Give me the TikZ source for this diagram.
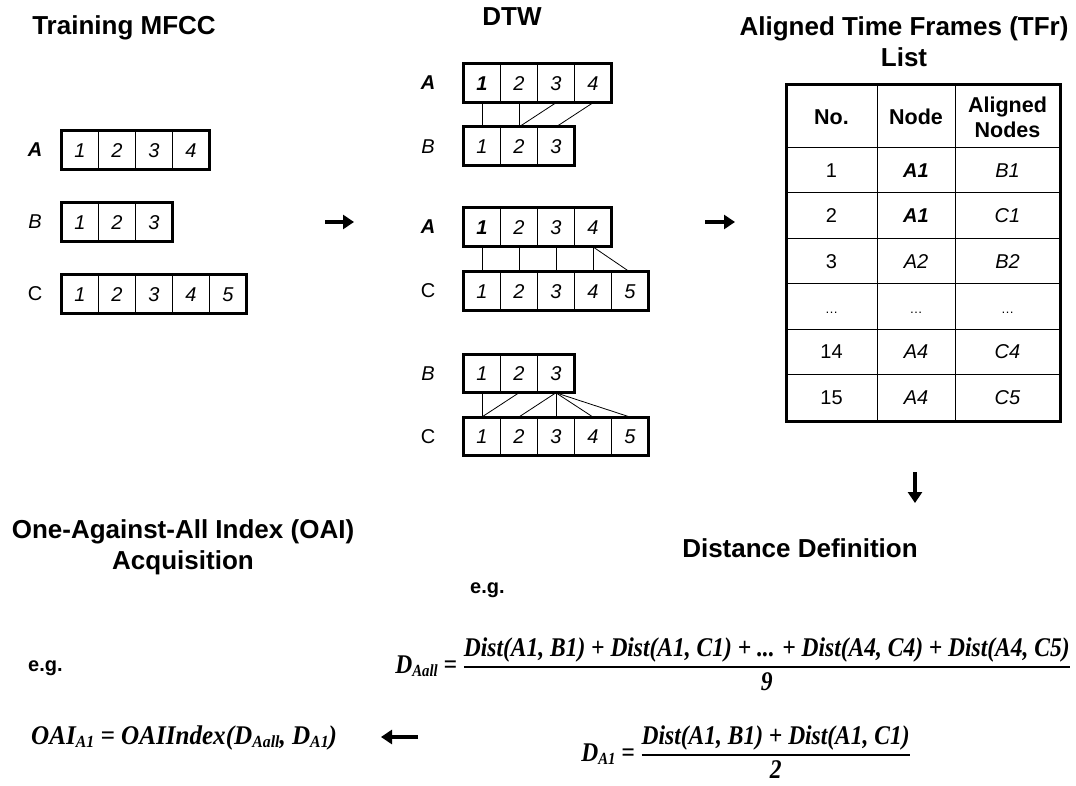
\documentclass[tikz,border=0pt]{standalone}
\usepackage{fontspec}
\usepackage{amsmath}
\usepackage{graphicx}
\setmainfont{Liberation Sans}
\newfontfamily\fr{Liberation Serif}
\usetikzlibrary{arrows.meta}
\newcommand\sub[1]{\raisebox{-0.12em}{\fontsize{17}{17}\selectfont #1}}
\newcommand\seqrow[4]{%
  \foreach \t [count=\i] in {#4} {\node[cellsty] (#1\i) at ({#2+(\i-1)*37},#3) {\t};}%
}
\tikzset{
  title/.style={font=\fontsize{26}{31}\selectfont\bfseries, align=center, inner sep=0pt},
  cellsty/.style={draw, line width=0.8pt, minimum width=37pt, minimum height=38pt, inner sep=0pt, anchor=north west, text height=14pt, text depth=0pt, font=\fontsize{20}{22}\selectfont\itshape},
  seqlbl/.style={font=\fontsize{20}{24}\selectfont, inner sep=0pt, text height=14pt, text depth=0pt},
  link/.style={line width=0.8pt},
  frame/.style={line width=3pt},
  grid/.style={line width=1pt},
  bigarrow/.style={line width=3.5pt, -{Triangle[length=11pt,width=14pt]}},
  tab/.style={font=\fontsize{20}{25}\selectfont, align=center, inner sep=0pt, text height=14pt, text depth=0pt},
  head/.style={font=\fontsize{21.5}{25}\selectfont\bfseries, align=center, inner sep=0pt},
  eg/.style={font=\fontsize{20}{24}\selectfont\bfseries, inner sep=0pt},
  formula/.style={font=\fontsize{27}{30}\selectfont\fr\bfseries\itshape, inner sep=0pt},
}
\begin{document}
\begin{tikzpicture}[x=1pt,y=-1pt]
\useasboundingbox (0,0) rectangle (1076,786);

% titles
\node[title] (t1) at (124,28) {Training MFCC};
\node[title] (t2) at (512,17) {DTW};
\node[title] (t3) at (904,42) {Aligned Time Frames (TFr)\\List};
\node[title] (t4) at (183,547) {One-Against-All Index (OAI)\\Acquisition};
\node[title] (t5) at (800,548) {Distance Definition};

% training MFCC
\node[seqlbl] (lA) at (35,150) {\textbf{\textit{A}}};
\node[seqlbl] (lB) at (35,222) {\textit{B}};
\node[seqlbl] (lC) at (35,294) {C};
\seqrow{tA}{61}{131}{1,2,3,4}
\seqrow{tB}{61}{203}{1,2,3}
\seqrow{tC}{61}{275}{1,2,3,4,5}
\draw[frame] (tA1.north west) rectangle (tA4.south east);
\draw[frame] (tB1.north west) rectangle (tB3.south east);
\draw[frame] (tC1.north west) rectangle (tC5.south east);

% DTW 1
\node[seqlbl] (pAl) at (428,83) {\textbf{\textit{A}}};
\node[seqlbl] (pBl) at (428,147) {\textit{B}};
\seqrow{pA}{463}{64}{\textbf{1},2,3,4}
\seqrow{pB}{463}{127}{1,2,3}
\draw[link] (pA1.south) -- (pB1.north);
\draw[link] (pA2.south) -- (pB2.north);
\draw[link] (pA3.south) -- (pB2.north);
\draw[link] (pA4.south) -- (pB3.north);
\draw[frame] (pA1.north west) rectangle (pA4.south east);
\draw[frame] (pB1.north west) rectangle (pB3.south east);

% DTW 2
\node[seqlbl] (qAl) at (428,227) {\textbf{\textit{A}}};
\node[seqlbl] (qCl) at (428,291) {C};
\seqrow{qA}{463}{208}{\textbf{1},2,3,4}
\seqrow{qC}{463}{272}{1,2,3,4,5}
\draw[link] (qA1.south) -- (qC1.north);
\draw[link] (qA2.south) -- (qC2.north);
\draw[link] (qA3.south) -- (qC3.north);
\draw[link] (qA4.south) -- (qC4.north);
\draw[link] (qA4.south) -- (qC5.north);
\draw[frame] (qA1.north west) rectangle (qA4.south east);
\draw[frame] (qC1.north west) rectangle (qC5.south east);

% DTW 3
\node[seqlbl] (rBl) at (428,373) {\textit{B}};
\node[seqlbl] (rCl) at (428,436) {C};
\seqrow{rB}{463}{354}{1,2,3}
\seqrow{rC}{463}{417}{1,2,3,4,5}
\draw[link] (rB1.south) -- (rC1.north);
\draw[link] (rB2.south) -- (rC1.north);
\draw[link] (rB3.south) -- (rC2.north);
\draw[link] (rB3.south) -- (rC3.north);
\draw[link] (rB3.south) -- (rC4.north);
\draw[link] (rB3.south) -- (rC5.north);
\draw[frame] (rB1.north west) rectangle (rB3.south east);
\draw[frame] (rC1.north west) rectangle (rC5.south east);

% table
\foreach \y in {148,193,239,284,329,374} \draw[grid] (786,\y) -- (1060,\y);
\foreach \x in {877,955} \draw[grid] (\x,85) -- (\x,421);
\draw[frame] (786,85) rectangle (1060,421);
\node[head] (h1) at (831.5,117) {No.};
\node[head] (h2) at (916,117) {Node};
\node[head] (h3) at (1007.5,117) {Aligned\\Nodes};
\foreach \n/\a/\b [count=\r] in {1/\textbf{\textit{A1}}/\textit{B1}, 2/\textbf{\textit{A1}}/\textit{C1}, 3/\textit{A2}/\textit{B2}, {\fontsize{13}{13}\selectfont\dots}/{\fontsize{13}{13}\selectfont\dots}/{\fontsize{13}{13}\selectfont\dots}, 14/\textit{A4}/\textit{C4}, 15/\textit{A4}/\textit{C5}} {
  \pgfmathsetmacro\yy{{170.5,216,261.5,306.5,351.5,397.5}[\r-1]}
  \node[tab] (c\r a) at (831.5,\yy) {\n};
  \node[tab] (c\r b) at (916,\yy) {\a};
  \node[tab] (c\r c) at (1007.5,\yy) {\b};
}

% arrows
\coordinate (a1s) at (325,222); \coordinate (a1e) at (354,222);
\coordinate (a2s) at (705,222); \coordinate (a2e) at (735,222);
\coordinate (a3s) at (915,472); \coordinate (a3e) at (915,503);
\coordinate (a4s) at (418,737); \coordinate (a4e) at (381,737);
\draw[bigarrow] (a1s) -- (a1e);
\draw[bigarrow] (a2s) -- (a2e);
\draw[bigarrow] (a3s) -- (a3e);
\draw[bigarrow] (a4s) -- (a4e);

% e.g.
\node[eg, anchor=west] (eg1) at (470,590) {e.g.};
\node[eg, anchor=west] (eg2) at (28,668) {e.g.};

% formulas
\node[formula] (daall) at (733,664) {\scalebox{0.87}[1]{$\text{D\sub{Aall} = }\genfrac{}{}{1.4pt}{0}{\text{Dist(A1, B1) + Dist(A1, C1) + ... + Dist(A4, C4) + Dist(A4, C5)}}{\text{9}}$}};
\node[formula] (da1) at (746,752) {\scalebox{0.87}[1]{$\text{D\sub{A1} = }\genfrac{}{}{1.4pt}{0}{\text{Dist(A1, B1) + Dist(A1, C1)}}{\text{2}}$}};
\node[formula, anchor=west] (oai) at (31,738) {\scalebox{0.93}[1]{OAI\sub{A1} = OAIIndex(D\sub{Aall}, D\sub{A1})}};
\end{tikzpicture}
\end{document}
